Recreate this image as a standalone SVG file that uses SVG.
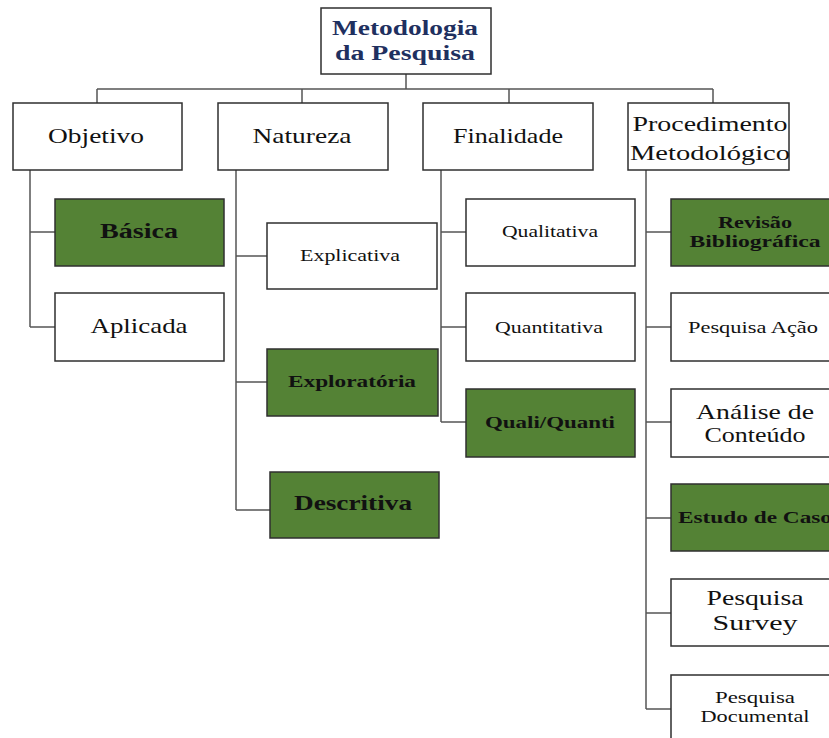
<svg xmlns="http://www.w3.org/2000/svg" width="829" height="738" viewBox="0 0 829 738">
<style>
.box{fill:#ffffff;stroke:#2f2f2f;stroke-width:1.5}
.g{fill:#548235;stroke:#2f2f2f;stroke-width:1.5}
.c{fill:none;stroke:#555555;stroke-width:1.5}
text{text-anchor:middle;fill:#111111}
.L{font-size:22px}
.S{font-size:16px}
.B{font-weight:bold}
.h{font-size:20px;font-weight:bold;fill:#1f3060}
</style>
<rect width="829" height="738" fill="#ffffff"/>
<g id="connectors">
<path class="c" d="M406 74V89M97 89H713M97 89V103M302 89V103M509 89V103M713 89V103"/>
<path class="c" d="M30 170V327M30 232H55M30 327H55"/>
<path class="c" d="M236 170V510M236 256H267M236 382H267M236 510H270"/>
<path class="c" d="M441 170V422M441 232H466M441 327H466M441 422H466"/>
<path class="c" d="M646 170V709M646 232H671M646 327H671M646 422H671M646 518H671M646 613H671M646 709H671"/>
</g>
<g font-family="Liberation Serif, DejaVu Serif, serif">
<g id="root"><rect class="box" x="321" y="8" width="170" height="66"/><text class="h" x="405" y="35" textLength="146" lengthAdjust="spacingAndGlyphs">Metodologia</text><text class="h" x="405" y="60" textLength="140" lengthAdjust="spacingAndGlyphs">da Pesquisa</text></g>
<g id="objetivo"><rect class="box" x="13" y="103" width="169" height="67"/><text class="L" x="96" y="143" textLength="96" lengthAdjust="spacingAndGlyphs">Objetivo</text></g>
<g id="natureza"><rect class="box" x="218" y="103" width="170" height="67"/><text class="L" x="302" y="143" textLength="99" lengthAdjust="spacingAndGlyphs">Natureza</text></g>
<g id="finalidade"><rect class="box" x="423" y="103" width="170" height="67"/><text class="L" x="508" y="143" textLength="110" lengthAdjust="spacingAndGlyphs">Finalidade</text></g>
<g id="procedimento"><rect class="box" x="628" y="103" width="161" height="67"/><text class="L" x="710" y="131" textLength="155" lengthAdjust="spacingAndGlyphs">Procedimento</text><text class="L" x="710" y="160" textLength="160" lengthAdjust="spacingAndGlyphs">Metodológico</text></g>
<g id="basica"><rect class="g" x="55" y="199" width="169" height="67"/><text class="L B" x="139" y="238" textLength="78" lengthAdjust="spacingAndGlyphs">Básica</text></g>
<g id="aplicada"><rect class="box" x="55" y="293" width="169" height="68"/><text class="L" x="139" y="333" textLength="97" lengthAdjust="spacingAndGlyphs">Aplicada</text></g>
<g id="explicativa"><rect class="box" x="267" y="223" width="170" height="66"/><text class="S" x="350" y="261" textLength="100" lengthAdjust="spacingAndGlyphs">Explicativa</text></g>
<g id="exploratoria"><rect class="g" x="267" y="349" width="171" height="67"/><text class="S B" x="352" y="387" textLength="128" lengthAdjust="spacingAndGlyphs">Exploratória</text></g>
<g id="descritiva"><rect class="g" x="270" y="472" width="169" height="66"/><text class="L B" x="353" y="510" textLength="118" lengthAdjust="spacingAndGlyphs">Descritiva</text></g>
<g id="qualitativa"><rect class="box" x="466" y="199" width="169" height="67"/><text class="S" x="550" y="237" textLength="96" lengthAdjust="spacingAndGlyphs">Qualitativa</text></g>
<g id="quantitativa"><rect class="box" x="466" y="293" width="169" height="68"/><text class="S" x="549" y="333" textLength="108" lengthAdjust="spacingAndGlyphs">Quantitativa</text></g>
<g id="qualiquanti"><rect class="g" x="466" y="389" width="169" height="68"/><text class="S B" x="550" y="428" textLength="130" lengthAdjust="spacingAndGlyphs">Quali/Quanti</text></g>
<g id="revisao"><rect class="g" x="671" y="199" width="169" height="67"/><text class="S B" x="755" y="228" textLength="74" lengthAdjust="spacingAndGlyphs">Revisão</text><text class="S B" x="755" y="247" textLength="131" lengthAdjust="spacingAndGlyphs">Bibliográfica</text></g>
<g id="pesquisaacao"><rect class="box" x="671" y="293" width="169" height="68"/><text class="S" x="753" y="333" textLength="130" lengthAdjust="spacingAndGlyphs">Pesquisa Ação</text></g>
<g id="analise"><rect class="box" x="671" y="389" width="169" height="68"/><text class="L" x="755" y="419" font-size="20" textLength="118" lengthAdjust="spacingAndGlyphs">Análise de</text><text class="L" x="755" y="442" font-size="20" textLength="101" lengthAdjust="spacingAndGlyphs">Conteúdo</text></g>
<g id="estudo"><rect class="g" x="671" y="484" width="169" height="67"/><text class="S B" x="755" y="523" textLength="154" lengthAdjust="spacingAndGlyphs">Estudo de Caso</text></g>
<g id="survey"><rect class="box" x="671" y="579" width="169" height="67"/><text class="L" x="755" y="605" textLength="97" lengthAdjust="spacingAndGlyphs">Pesquisa</text><text class="L" x="755" y="630" textLength="85" lengthAdjust="spacingAndGlyphs">Survey</text></g>
<g id="documental"><rect class="box" x="671" y="675" width="169" height="68"/><text class="S" x="755" y="703" textLength="80" lengthAdjust="spacingAndGlyphs">Pesquisa</text><text class="S" x="755" y="722" textLength="109" lengthAdjust="spacingAndGlyphs">Documental</text></g>
</g>
</svg>
